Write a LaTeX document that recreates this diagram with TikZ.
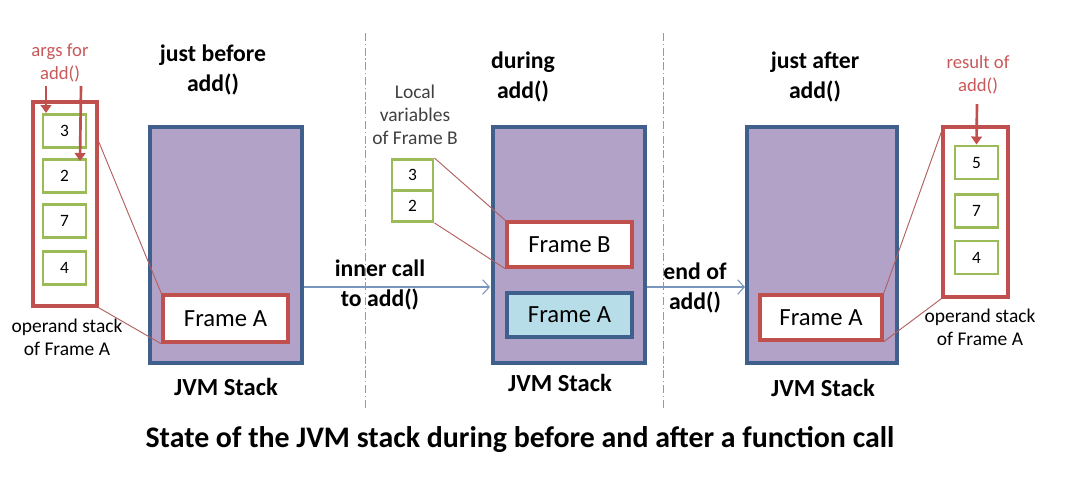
\documentclass[tikz,border=0pt]{standalone}
\usepackage{fontspec}
\setmainfont{Carlito}
\usetikzlibrary{arrows.meta,calc}
\definecolor{jvmfill}{HTML}{B3A2C7}
\definecolor{jvmblue}{HTML}{3F5F8C}
\definecolor{fred}{HTML}{C0504D}
\definecolor{fgreen}{HTML}{9BBB59}
\definecolor{flblue}{HTML}{B7DEE8}
\definecolor{arrblue}{HTML}{7896BE}
\definecolor{txtred}{HTML}{C9585A}
\definecolor{lnred}{HTML}{B0605E}
\tikzset{
  jvm/.style={draw=jvmblue, fill=jvmfill, line width=3pt, minimum height=177pt, inner sep=0pt},
  frm/.style={draw=fred, fill=white, line width=2.6pt, minimum width=93.75pt, inner sep=0pt, font=\fontsize{18.5}{20}\selectfont},
  frmA/.style={draw=jvmblue, fill=flblue, line width=2.6pt, minimum width=93.75pt, inner sep=0pt, font=\fontsize{18.5}{20}\selectfont},
  ops/.style={draw=fred, line width=2.6pt, inner sep=0pt},
  cell/.style={draw=fgreen, fill=white, line width=2.2pt, minimum width=32.25pt, minimum height=24.75pt, inner sep=0pt, font=\fontsize{13}{14}\selectfont},
  lvcell/.style={draw=fgreen, fill=white, line width=2.2pt, minimum width=30.75pt, minimum height=23.25pt, inner sep=0pt, font=\fontsize{13}{14}\selectfont},
  head/.style={align=center, font=\fontsize{17.8}{22.5}\selectfont\bfseries},
  lbl/.style={align=center, font=\fontsize{14.6}{17.2}\selectfont},
  redlbl/.style={align=center, text=txtred, font=\fontsize{14}{17}\selectfont},
  stk/.style={font=\fontsize{18.4}{20}\selectfont\bfseries},
  callarr/.style={draw=arrblue, line width=0.8pt, -{Straight Barb[length=5pt,width=11pt]}},
  redarr/.style={draw=fred, line width=2pt, -{Triangle[length=6pt,width=8pt]}},
  link/.style={draw=lnred, line width=0.7pt},
  sep/.style={draw=gray!80, line width=0.6pt, dash pattern=on 6pt off 2pt on 1pt off 2pt}
}
\begin{document}
\begin{tikzpicture}[x=0.75pt,y=-0.75pt]
\useasboundingbox (0,0) rectangle (1065,486);
% separators
\coordinate (s1t) at (365,33); \coordinate (s1b) at (365,410);
\coordinate (s2t) at (663,33); \coordinate (s2b) at (663,410);
\draw[sep] (s1t) -- (s1b);
\draw[sep] (s2t) -- (s2b);

% ---------- left panel ----------
\node[ops, minimum width=48pt, minimum height=153pt] (ops1) at (65,204) {};
\node[cell] (g13) at (64.5,131) {3};
\node[cell] (g12) at (64.5,176) {2};
\node[cell] (g17) at (64.5,221) {7};
\node[cell] (g14) at (64.5,268) {4};
\node[redlbl] (args) at (60,63) {args for\\add()};
\coordinate (a1s) at (46,86); \coordinate (a1e) at (46,113);
\coordinate (a2s) at (81,86); \coordinate (a2e) at (80,161);
\draw[redarr] (a1s) -- (a1e);
\draw[redarr] (a2s) -- (a2e);
\node[lbl] (opl1) at (67,337) {operand stack\\of Frame A};
\node[head] (h1) at (213,70) {just before\\add()};
\node[jvm, minimum width=114pt] (jvm1) at (226,245) {};
\node[frm, minimum height=35.25pt] (fA1) at (225.5,318.5) {Frame A};
\node[stk] (st1) at (226,387) {JVM Stack};
\draw[link] ($(ops1.north east)!0.2!(ops1.south east)$) -- (fA1.north west);
\draw[link] (ops1.south east) -- (fA1.south west);

% ---------- middle panel ----------
\node[head] (h2) at (523,77) {during\\add()};
\node[lbl, text=black!75] (lvt) at (415,115) {Local\\variables\\of Frame B};
\node[lvcell] (lv3) at (412.5,175) {3};
\node[lvcell] (lv2) at (412.5,206) {2};
\node[jvm, minimum width=114pt] (jvm2) at (569,245) {};
\node[frm, minimum height=33.75pt] (fB) at (569.5,244.5) {Frame B};
\node[frmA, minimum height=33pt] (fA2) at (569.5,315) {Frame A};
\node[stk] (st2) at (560,383) {JVM Stack};
\draw[link] (lv3.north east) -- (fB.north west);
\draw[link] (lv2.south east) -- (fB.south west);

% inner call arrow
\coordinate (ic) at (490,287);
\draw[callarr] (jvm1.east |- ic) -- (ic);
\node[head] (icl) at (380,285) {inner call\\to add()};

% ---------- right panel ----------
\node[head] (h3) at (815,77) {just after\\add()};
\node[jvm, minimum width=112.5pt] (jvm3) at (822,245) {};
\node[frm, minimum width=91.5pt, minimum height=33.75pt] (fA3) at (821,317.5) {Frame A};
\node[stk] (st3) at (823,388) {JVM Stack};
\draw[callarr] (jvm2.east |- ic) -- (jvm3.west |- ic);
\node[head] (eol) at (695,288) {end of\\add()};

\node[ops, minimum width=48.75pt, minimum height=127.5pt] (ops3) at (975.5,212) {};
\node[cell] (g35) at (976.5,162.5) {5};
\node[cell] (g37) at (976.5,211) {7};
\node[cell] (g34) at (976.5,257.5) {4};
\node[redlbl] (res) at (978,75) {result of\\add()};
\coordinate (r1s) at (977,104);
\draw[redarr] (r1s) -- (g35.north);
\node[lbl] (opl3) at (980,327) {operand stack\\of Frame A};
\draw[link] (fA3.north east) -- ($(ops3.north west)!0.04!(ops3.south west)$);
\draw[link] (fA3.south east) -- (ops3.south west);

% title
\node[font=\fontsize{22.4}{24}\selectfont\bfseries] (title) at (520,440) {State of the JVM stack during before and after a function call};
\end{tikzpicture}
\end{document}
